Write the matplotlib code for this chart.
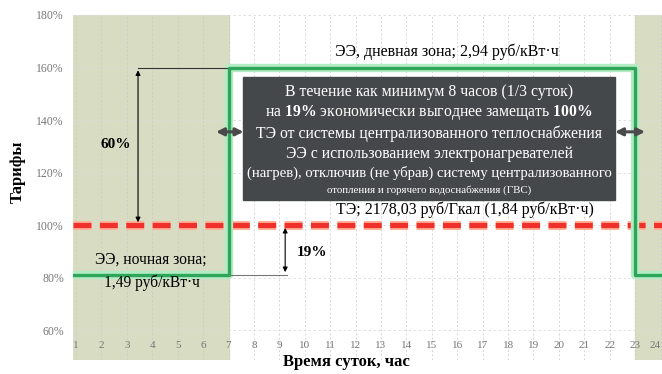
import matplotlib
matplotlib.use("Agg")
import matplotlib.pyplot as plt
from matplotlib.ticker import FuncFormatter

# data
hours = list(range(1, 25))
zone_edges = [0.9, 7, 23, 24.5]          # night | day | night
ee_tariff = [81, 160, 81, 81]            # % of heat tariff (step values)
te_tariff = 100
y_ticks = [60, 80, 100, 120, 140, 160, 180]

day_label = "ЭЭ, дневная зона; 2,94 руб/кВт·ч"
heat_label = "ТЭ; 2178,03 руб/Гкал (1,84 руб/кВт·ч)"
night_label = ["ЭЭ, ночная зона;", "1,49 руб/кВт·ч"]
box_lines = [
    "В течение как минимум 8 часов (1/3 суток)",
    "на $\\mathbf{19\\%}$ экономически выгоднее замещать $\\mathbf{100\\%}$",
    "ТЭ от системы централизованного теплоснабжения",
    "ЭЭ с использованием электронагревателей",
    "(нагрев), отключив (не убрав) систему централизованного",
]
box_last = "отопления и горячего водоснабжения (ГВС)"

plt.rcParams["font.family"] = ["Liberation Serif", "DejaVu Serif"]
plt.rcParams["mathtext.fontset"] = "custom"
plt.rcParams["mathtext.rm"] = "Liberation Serif"
plt.rcParams["mathtext.bf"] = "Liberation Serif:bold"

fig = plt.figure(figsize=(6.62, 3.74), dpi=100)
ax = fig.add_axes([0.111, 0.0374, 0.906, 0.9225])
ax.set_xlim(zone_edges[0], zone_edges[-1])
ax.set_ylim(48.6, 180)

# night zones shading
ax.axvspan(zone_edges[0], zone_edges[1], color="#d7dcc2", zorder=0)
ax.axvspan(zone_edges[2], zone_edges[3], color="#d7dcc2", zorder=0)

# grid
for h in hours:
    ax.axvline(h, color="#c9c9c9", lw=0.5, ls=(0, (3, 3)), zorder=0.5)
for t in y_ticks:
    ax.axhline(t, color="#dcdcdc", lw=0.6, ls=(0, (3, 3)), zorder=0.5)

# heat tariff (red dashed with soft halo)
ax.axhline(te_tariff, color="#ffb49a", lw=6.5, ls=(0, (12.9 / 6.5, 6.1 / 6.5)), zorder=2)
ax.axhline(te_tariff, color="#f0302a", lw=3.8, ls=(0, (3.4, 1.6)), zorder=3)

# electricity tariff (green step)
ax.step(zone_edges, ee_tariff, where="post", color="#b3ebc4", lw=6, zorder=3)
ax.step(zone_edges, ee_tariff, where="post", color="#2fa55a", lw=2.4, zorder=4)

# annotation lines & arrows
ax.plot([3.44, 7], [160, 160], color="#333333", lw=0.8, zorder=3)
ax.annotate("", xy=(3.44, 160), xytext=(3.44, 100),
            arrowprops=dict(arrowstyle="<|-|>", color="black", lw=0.8, mutation_scale=7), zorder=5)
ax.text(2.57, 130.5, "60%", fontsize=11, fontweight="bold", ha="center", va="center")

ax.plot([7, 9.3], [81, 81], color="#777777", lw=0.8, zorder=3)
ax.annotate("", xy=(9.23, 100), xytext=(9.23, 81),
            arrowprops=dict(arrowstyle="<|-|>", color="black", lw=0.8, mutation_scale=7), zorder=5)
ax.text(10.3, 89.7, "19%", fontsize=11, fontweight="bold", ha="center", va="center")

ax.annotate("", xy=(6.4, 135.5), xytext=(7.7, 135.5),
            arrowprops=dict(arrowstyle="<|-|>", color="#4a4a4a", lw=2.2, mutation_scale=11), zorder=6)
ax.annotate("", xy=(23.5, 135.5), xytext=(22.1, 135.5),
            arrowprops=dict(arrowstyle="<|-|>", color="#4a4a4a", lw=2.2, mutation_scale=11), zorder=6)

# dark info box
box = plt.Rectangle((7.57, 109.5), 22.22 - 7.57, 156.4 - 109.5, color="#45484a", zorder=5)
ax.add_patch(box)
line_y = [150.7, 142.7, 134.7, 127.0, 119.8]
line_fs = [11.3, 11.3, 11.3, 11.3, 10.6]
for y, fs, line in zip(line_y, line_fs, box_lines):
    ax.text(14.9, y, line, color="white", fontsize=fs,
            ha="center", va="center", zorder=6)
ax.text(14.9, 113.4, box_last, color="white", fontsize=7.8, ha="center", va="center", zorder=6)

# zone labels
ax.text(15.6, 165.9, day_label, fontsize=11.5, ha="center", va="center")
ax.text(16.3, 105.9, heat_label, fontsize=11.5, ha="center", va="center")
ax.text(3.95, 86.7, night_label[0], fontsize=11.2, ha="center", va="center", zorder=5)
ax.text(3.99, 77.9, night_label[1], fontsize=11.2, ha="center", va="center", zorder=5)

# axes styling
for s in ax.spines.values():
    s.set_visible(False)
ax.set_yticks(y_ticks)
ax.yaxis.set_major_formatter(FuncFormatter(lambda v, p: f"{v:.0f}%"))
ax.set_xticks(hours)
ax.set_xticklabels([str(h) for h in hours])
ax.get_xticklabels()[-1].set_horizontalalignment("right")
ax.tick_params(axis="y", length=0, pad=7, labelsize=8.5, labelcolor="#777777")
ax.tick_params(axis="x", length=0, pad=-14, labelsize=8, labelcolor="#777777")

fig.text(0.027, 0.54, "Тарифы", rotation=90, fontsize=12, fontweight="bold",
         ha="center", va="center")
fig.text(0.524, 0.032, "Время суток, час", fontsize=12, fontweight="bold",
         ha="center", va="center")

fig.savefig("out.png", dpi=100)
